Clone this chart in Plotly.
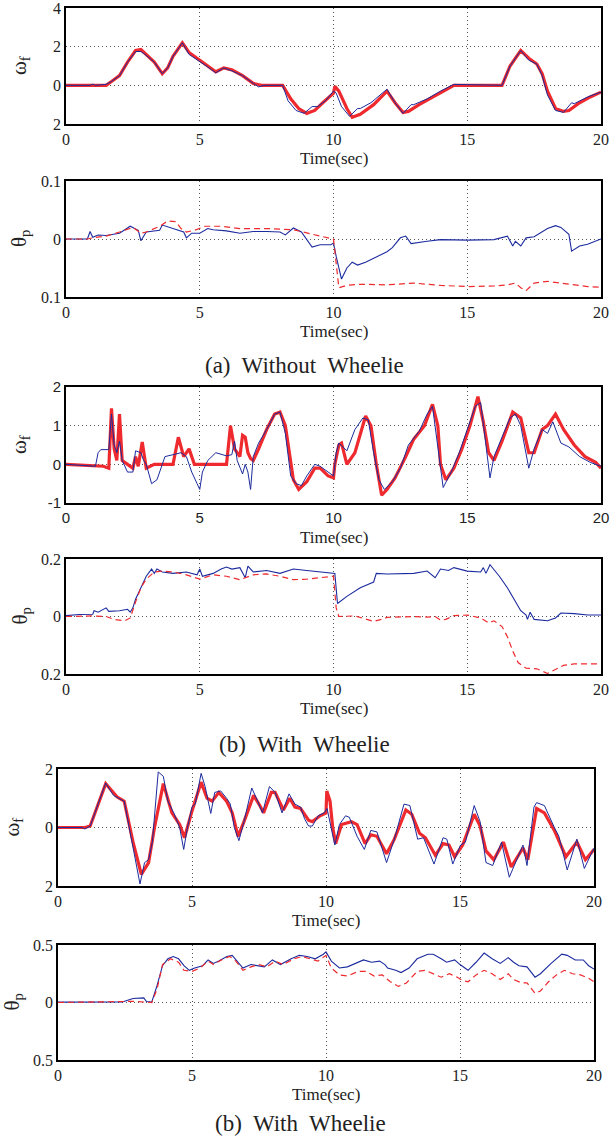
import plotly.graph_objects as go

# ---------------- data ----------------
# Panel (a) omega_f
a_wf_blue_t = [0, 0.9, 1.0, 1.1, 1.5, 1.7, 2.0, 2.3, 2.6, 2.8, 3.0, 3.3, 3.6, 3.8, 4.0, 4.35, 4.6, 5.0, 5.3, 5.6, 5.9, 6.2, 6.6, 7.0, 7.2, 7.4, 8.1, 8.3, 8.6, 8.9, 9.2, 9.4, 9.7, 10.0, 10.1, 10.3, 10.6, 10.9, 11.0, 11.4, 12.0, 12.3, 12.6, 12.9, 13.0, 13.5, 14.0, 14.5, 16.3, 16.6, 17.0, 17.3, 17.6, 17.8, 18.0, 18.3, 18.6, 18.9, 19.0, 19.5, 20.0]
a_wf_blue = [0, 0, 0.06, 0, 0.05, 0.2, 0.5, 1.2, 1.75, 1.75, 1.55, 1.2, 0.6, 0.9, 1.5, 2.2, 1.6, 1.25, 0.95, 0.65, 0.9, 0.75, 0.5, 0.1, -0.08, 0, 0, -0.8, -1.3, -1.45, -1.1, -1.1, -0.8, -0.3, -0.4, -1.1, -1.6, -1.2, -1.2, -0.9, -0.2, -0.9, -1.45, -1.0, -1.0, -0.7, -0.3, 0.05, 0, 1.0, 1.8, 1.3, 1.1, 0.5, -0.5, -1.3, -1.4, -0.9, -0.95, -0.6, -0.35]
a_wf_red_t = [0, 1.5, 1.7, 2.0, 2.3, 2.6, 2.8, 3.0, 3.3, 3.6, 3.8, 4.0, 4.35, 4.6, 5.0, 5.3, 5.6, 5.9, 6.2, 6.6, 7.0, 7.3, 8.1, 8.4, 8.7, 9.0, 9.3, 9.6, 10.0, 10.05, 10.2, 10.5, 10.7, 11.0, 11.5, 12.0, 12.3, 12.6, 12.8, 13.2, 13.7, 14.2, 14.5, 16.3, 16.6, 17.0, 17.3, 17.6, 17.8, 18.0, 18.3, 18.6, 18.8, 19.2, 19.6, 20.0]
a_wf_red = [0, 0, 0.2, 0.5, 1.2, 1.8, 1.85, 1.6, 1.2, 0.6, 0.9, 1.5, 2.2, 1.7, 1.3, 1.0, 0.7, 0.9, 0.8, 0.5, 0.1, 0, 0, -0.7, -1.2, -1.45, -1.3, -0.9, -0.4, -0.05, -0.3, -1.2, -1.65, -1.5, -1.0, -0.3, -0.9, -1.4, -1.35, -1.0, -0.6, -0.2, 0, 0, 1.0, 1.8, 1.4, 1.1, 0.6, -0.3, -1.2, -1.35, -1.3, -0.9, -0.6, -0.35]

# Panel (a) theta_p
a_tp_blue_t = [0, 0.8, 0.9, 1.0, 1.2, 1.5, 2.0, 2.4, 2.7, 2.8, 3.0, 3.5, 3.6, 4.0, 4.4, 4.5, 4.7, 5.0, 5.3, 5.5, 6.0, 6.5, 7.0, 7.5, 8.0, 8.2, 8.5, 8.8, 9.0, 9.2, 9.5, 9.9, 10.0, 10.1, 10.3, 10.5, 10.7, 10.9, 11.2, 11.5, 12.0, 12.2, 12.5, 12.7, 12.9, 13.5, 14.0, 15.0, 16.0, 16.5, 16.7, 16.8, 17.0, 17.2, 17.5, 18.0, 18.3, 18.5, 18.8, 18.9, 19.2, 19.5, 20.0]
a_tp_blue = [0, 0, 0.013, 0.003, 0.007, 0.006, 0.01, 0.022, 0.015, -0.003, 0.012, 0.015, 0.024, 0.018, 0.012, 0.002, 0.01, 0.01, 0.018, 0.016, 0.014, 0.01, 0.013, 0.013, 0.012, 0.007, 0.019, 0.012, 0.0, -0.014, -0.01, -0.01, -0.007, -0.03, -0.069, -0.05, -0.04, -0.045, -0.04, -0.033, -0.022, -0.015, 0.002, 0.005, -0.008, -0.004, -0.001, -0.002, -0.001, 0.005, -0.012, -0.004, -0.012, 0.002, 0.004, 0.018, 0.023, 0.02, 0.008, -0.021, -0.012, -0.009, 0.0]
a_tp_red_t = [0, 0.8, 1.0, 1.5, 2.0, 2.5, 2.8, 3.0, 3.5, 3.8, 4.1, 4.3, 4.5, 4.8, 5.2, 5.8, 6.5, 7.5, 8.5, 9.0, 9.5, 10.0, 10.2, 10.5, 11.0, 12.0, 13.0, 14.0, 15.0, 16.0, 16.5, 16.8, 17.0, 17.2, 17.5, 18.0, 18.5, 19.0, 19.5, 20.0]
a_tp_red = [0, 0, 0.002, 0.005, 0.012, 0.02, 0.01, 0.012, 0.022, 0.031, 0.03, 0.018, 0.012, 0.015, 0.022, 0.022, 0.018, 0.018, 0.016, 0.01, 0.005, 0.0, -0.084, -0.08, -0.078, -0.079, -0.076, -0.08, -0.082, -0.081, -0.079, -0.076, -0.084, -0.089, -0.076, -0.073, -0.076, -0.08, -0.082, -0.083]

# Panel (b) omega_f
b_wf_blue_t = [0, 1.1, 1.2, 1.3, 1.6, 1.7, 1.8, 1.9, 2.0, 2.1, 2.3, 2.5, 2.6, 2.8, 2.9, 3.0, 3.2, 3.4, 3.6, 3.7, 4.0, 4.3, 4.5, 4.7, 4.9, 5.0, 5.1, 5.3, 5.6, 5.8, 6.0, 6.2, 6.3, 6.4, 6.5, 6.6, 6.7, 6.8, 6.9, 7.0, 7.2, 7.5, 7.8, 8.0, 8.2, 8.4, 8.6, 8.8, 9.0, 9.3, 9.5, 9.7, 9.9, 10.0, 10.1, 10.2, 10.5, 10.8, 11.1, 11.3, 11.5, 11.7, 11.9, 12.2, 12.5, 12.8, 13.2, 13.5, 13.7, 13.9, 14.1, 14.4, 14.7, 15.0, 15.3, 15.5, 15.7, 15.85, 16.0, 16.3, 16.6, 16.8, 17.0, 17.3, 17.5, 17.8, 18.0, 18.2, 18.5, 18.8, 19.2, 19.6, 20.0]
b_wf_blue = [0, -0.05, 0.3, 0.38, 0.38, 1.3, 0.5, 0.3, 0.6, 0.1, -0.2, -0.2, 0.35, 0.3, 0.1, 0.0, -0.5, -0.4, 0.0, 0.2, 0.25, 0.3, 0.2, -0.2, -0.5, -0.65, -0.2, 0.1, 0.3, 0.25, 0.22, 0.25, 0.6, 0.1, -0.1, -0.25, 0.0, -0.2, -0.65, 0.2, 0.55, 0.9, 1.3, 1.35, 0.8, -0.3, -0.5, -0.55, -0.3, 0.0, -0.05, -0.15, -0.25, -0.3, 0.3, 0.55, 0.35, 0.9, 1.2, 1.15, 0.3, -0.4, -0.65, -0.45, -0.1, 0.5, 0.85, 1.3, 1.5, 0.4, -0.6, -0.2, 0.3, 0.9, 1.5, 1.6, 0.4, -0.35, 0.2, 0.7, 1.2, 1.3, 1.0, -0.1, 0.4, 0.9, 0.8, 1.1, 0.55, 0.45, 0.2, 0.05, -0.05]
b_wf_red_t = [0, 1.4, 1.6, 1.7, 1.8, 1.9, 2.0, 2.1, 2.3, 2.5, 2.6, 2.7, 2.85, 3.0, 3.3, 4.0, 4.2, 4.4, 4.6, 4.8, 6.0, 6.1, 6.15, 6.3, 6.5, 6.6, 6.7, 6.8, 6.9, 7.0, 7.2, 7.5, 7.8, 8.0, 8.2, 8.5, 8.7, 9.0, 9.3, 9.5, 9.8, 10.0, 10.05, 10.2, 10.3, 10.5, 10.8, 11.2, 11.4, 11.6, 11.8, 12.0, 12.3, 12.7, 13.0, 13.4, 13.7, 13.9, 14.0, 14.2, 14.5, 14.8, 15.1, 15.4, 15.6, 15.8, 16.0, 16.3, 16.7, 17.0, 17.3, 17.5, 17.8, 18.0, 18.3, 18.6, 19.0, 19.4, 19.8, 20.0]
b_wf_red = [0, -0.05, -0.1, 1.45, 0.4, 0.1, 1.3, 0.1, 0.0, -0.1, 0.2, -0.05, 0.58, -0.1, 0.0, 0.0, 0.7, 0.2, 0.4, 0.0, 0.0, 0.6, 1.0, 0.4, 0.2, 0.75, 0.7, 0.3, 0.15, 0.1, 0.4, 0.9, 1.3, 1.35, 1.0, -0.4, -0.65, -0.45, -0.1, -0.1, -0.3, -0.35, 0.0, 0.5, 0.55, 0.0, 0.3, 1.25, 1.0, 0.0, -0.8, -0.65, -0.35, 0.2, 0.65, 1.0, 1.55, 1.0, 0.0, -0.4, -0.1, 0.4, 1.0, 1.75, 1.1, 0.3, 0.1, 0.6, 1.35, 1.2, 0.3, 0.3, 0.9, 1.0, 1.3, 0.9, 0.5, 0.2, 0.05, -0.1]

# Panel (b) theta_p
b_tp_blue_t = [0, 0.5, 1.0, 1.05, 1.2, 1.5, 1.6, 2.0, 2.3, 2.4, 2.5, 2.6, 2.8, 3.0, 3.2, 3.3, 3.4, 3.6, 4.0, 4.5, 4.9, 5.0, 5.1, 5.5, 5.8, 6.0, 6.2, 6.5, 6.7, 6.8, 7.0, 7.5, 8.0, 8.5, 9.0, 9.5, 10.0, 10.05, 10.15, 10.5, 11.0, 11.5, 11.6, 12.0, 13.0, 13.5, 13.8, 14.0, 14.3, 14.5, 15.0, 15.5, 15.6, 15.7, 15.85, 16.2, 16.5, 16.8, 17.0, 17.2, 17.25, 17.35, 17.5, 18.0, 18.3, 18.5, 19.0, 19.5, 20.0]
b_tp_blue = [0.003, 0.007, 0.008, 0.02, 0.015, 0.03, 0.018, 0.02, 0.025, 0.015, 0.03, 0.06, 0.1, 0.14, 0.165, 0.15, 0.165, 0.155, 0.15, 0.155, 0.145, 0.165, 0.14, 0.15, 0.165, 0.172, 0.165, 0.17, 0.135, 0.175, 0.155, 0.16, 0.15, 0.165, 0.16, 0.155, 0.152, 0.15, 0.045, 0.07, 0.1, 0.12, 0.15, 0.148, 0.15, 0.158, 0.135, 0.165, 0.16, 0.17, 0.158, 0.155, 0.17, 0.15, 0.18, 0.14, 0.1, 0.05, 0.02, 0.005, -0.01, 0.015, -0.01, -0.015, -0.005, 0.012, 0.01, 0.005, 0.005]
b_tp_red_t = [0, 1.0, 1.5, 1.8, 2.2, 2.4, 2.6, 2.8, 3.0, 3.3, 3.6, 4.0, 4.5, 5.0, 5.5, 6.0, 6.5, 7.0, 7.5, 8.0, 8.5, 9.0, 9.5, 10.0, 10.1, 10.2, 10.8, 11.2, 11.5, 11.8, 12.0, 13.0, 13.5, 13.8, 14.0, 14.2, 14.5, 15.0, 15.5, 15.8, 16.0, 16.3, 16.5, 16.7, 16.9, 17.2, 17.6, 18.0, 18.3, 18.6, 19.0, 20.0]
b_tp_red = [0, 0.002, 0.0, -0.01, -0.015, -0.005, 0.05, 0.1, 0.13, 0.155, 0.158, 0.155, 0.145, 0.13, 0.145, 0.14, 0.128, 0.145, 0.148, 0.14, 0.128, 0.13, 0.135, 0.14, 0.03, 0.0, 0.002, -0.008, -0.017, -0.01, -0.003, 0.0, -0.002, 0.0, -0.012, -0.01, 0.003, 0.005, -0.005, -0.022, -0.015, -0.035, -0.07, -0.12, -0.16, -0.18, -0.182, -0.198, -0.185, -0.17, -0.165, -0.165]

# Panel (c) omega_f
c_wf_blue_t = [0, 0.9, 1.0, 1.2, 1.78, 2.07, 2.36, 2.47, 3.06, 3.23, 3.38, 3.52, 3.74, 3.93, 4.1, 4.32, 4.54, 4.69, 4.83, 5.0, 5.12, 5.34, 5.49, 5.7, 5.85, 6.07, 6.29, 6.43, 6.58, 6.75, 6.94, 7.23, 7.45, 7.63, 7.89, 8.1, 8.36, 8.62, 8.84, 9.05, 9.2, 9.35, 9.49, 9.71, 9.93, 10.04, 10.19, 10.33, 10.5, 10.73, 10.87, 11.16, 11.43, 11.67, 11.9, 12.26, 12.55, 12.91, 13.13, 13.42, 13.64, 14.03, 14.37, 14.51, 14.73, 15.02, 15.2, 15.53, 15.75, 15.97, 16.22, 16.55, 16.84, 17.13, 17.35, 17.5, 17.76, 17.86, 18.15, 18.52, 18.69, 19.0, 19.36, 19.64, 20.0]
c_wf_blue = [0, 0, -0.05, 0.05, 1.52, 1.1, 0.95, 0.9, -1.93, -1.2, -1.1, -0.5, 1.9, 1.75, 0.9, 0.5, 0.0, -0.75, 0.0, 0.7, 0.8, 1.85, 1.4, 0.48, 1.2, 1.25, 1.0, 0.8, 0.0, -0.45, 0.2, 1.35, 0.9, 0.5, 1.4, 1.2, 0.5, 1.15, 0.8, 0.7, 0.3, 0.05, 0.05, 0.4, 0.5, 0.65, 0.0, -0.6, 0.1, 0.4, 0.35, -0.3, -0.75, -0.1, -0.15, -1.2, -0.4, 0.8, 0.75, -0.4, -0.35, -1.25, -0.35, -0.4, -1.25, -0.6, -0.5, 0.75, 0.2, -1.2, -1.3, -0.5, -1.7, -1.1, -0.6, -1.3, 0.7, 0.85, 0.75, 0.0, -0.3, -1.45, -0.4, -1.4, -0.7]
c_wf_red_t = [0, 1.0, 1.2, 1.78, 2.2, 2.47, 2.8, 3.11, 3.38, 3.6, 3.93, 4.25, 4.54, 4.72, 4.98, 5.34, 5.56, 5.75, 6.0, 6.29, 6.5, 6.72, 6.94, 7.3, 7.56, 7.67, 7.96, 8.1, 8.41, 8.65, 8.84, 9.05, 9.35, 9.49, 9.78, 10.0, 10.03, 10.15, 10.25, 10.36, 10.58, 10.95, 11.16, 11.46, 11.67, 11.9, 12.26, 12.55, 12.98, 13.2, 13.49, 13.71, 14.08, 14.37, 14.59, 14.8, 15.1, 15.53, 15.75, 15.97, 16.26, 16.62, 16.91, 17.2, 17.35, 17.53, 17.86, 18.15, 18.52, 18.95, 19.36, 19.68, 20.0]
c_wf_red = [0, 0, 0.05, 1.5, 1.05, 0.9, -0.5, -1.6, -1.2, 0.0, 1.5, 0.5, 0.1, -0.35, 0.5, 1.55, 1.0, 0.9, 1.2, 0.9, 0.5, -0.3, 0.2, 1.1, 0.7, 0.5, 1.2, 1.2, 0.6, 1.0, 0.7, 0.65, 0.25, 0.2, 0.4, 0.5, 1.25, 0.9, 0.0, -0.55, 0.1, 0.2, 0.1, -0.55, -0.25, -0.3, -0.9, -0.4, 0.6, 0.45, -0.2, -0.35, -0.95, -0.55, -0.6, -1.0, -0.6, 0.45, 0.05, -0.8, -1.1, -0.5, -1.35, -0.9, -0.7, -1.1, 0.65, 0.5, -0.1, -1.0, -0.5, -1.1, -0.75]

# Panel (c) theta_p
c_tp_blue_t = [0, 2.0, 2.2, 2.4, 2.6, 2.8, 3.2, 3.3, 3.5, 3.7, 3.9, 4.1, 4.3, 4.5, 4.7, 4.9, 5.1, 5.4, 5.6, 5.8, 6.0, 6.3, 6.5, 6.7, 6.9, 7.2, 7.5, 7.7, 8.0, 8.3, 8.7, 9.0, 9.3, 9.6, 9.9, 10.0, 10.2, 10.5, 10.8, 11.1, 11.4, 11.7, 12.0, 12.2, 12.3, 12.6, 12.8, 13.1, 13.4, 13.8, 14.0, 14.3, 14.5, 14.8, 15.0, 15.3, 15.6, 15.9, 16.2, 16.5, 16.8, 17.0, 17.2, 17.5, 17.8, 18.0, 18.4, 18.8, 19.0, 19.3, 19.6, 19.8, 20.0]
c_tp_blue = [0.003, 0.003, 0.008, 0.005, 0.02, 0.035, 0.04, 0.008, 0.005, 0.15, 0.32, 0.38, 0.4, 0.38, 0.32, 0.28, 0.3, 0.32, 0.37, 0.34, 0.36, 0.4, 0.41, 0.35, 0.3, 0.33, 0.32, 0.31, 0.37, 0.33, 0.38, 0.41, 0.4, 0.38, 0.42, 0.44, 0.36, 0.3, 0.31, 0.34, 0.37, 0.35, 0.36, 0.33, 0.3, 0.28, 0.26, 0.3, 0.38, 0.42, 0.42, 0.38, 0.35, 0.37, 0.33, 0.28, 0.35, 0.43, 0.38, 0.34, 0.39, 0.35, 0.32, 0.31, 0.22, 0.25, 0.34, 0.42, 0.41, 0.37, 0.37, 0.32, 0.29]
c_tp_red_t = [0, 2.8, 3.5, 3.7, 3.9, 4.2, 4.5, 4.7, 5.0, 5.3, 5.6, 5.8, 6.1, 6.4, 6.6, 6.9, 7.2, 7.5, 7.8, 8.1, 8.4, 8.8, 9.1, 9.4, 9.7, 10.0, 10.2, 10.5, 10.8, 11.2, 11.5, 11.8, 12.1, 12.4, 12.7, 13.0, 13.4, 13.7, 14.0, 14.3, 14.6, 14.9, 15.1, 15.3, 15.6, 15.9, 16.2, 16.5, 16.8, 17.0, 17.3, 17.5, 17.8, 18.0, 18.3, 18.6, 18.9, 19.2, 19.5, 19.8, 20.0]
c_tp_red = [0, 0.01, 0.0, 0.12, 0.33, 0.38, 0.35, 0.28, 0.27, 0.3, 0.36, 0.33, 0.37, 0.4, 0.37, 0.28, 0.31, 0.33, 0.31, 0.36, 0.33, 0.38, 0.4, 0.38, 0.36, 0.41, 0.3, 0.24, 0.23, 0.27, 0.27, 0.23, 0.24, 0.18, 0.14, 0.17, 0.27, 0.28, 0.25, 0.22, 0.25, 0.22, 0.19, 0.18, 0.24, 0.28, 0.25, 0.2, 0.25, 0.2, 0.17, 0.17, 0.08, 0.1, 0.18, 0.24, 0.28, 0.25, 0.24, 0.21, 0.18]

# axis settings per panel
y_ranges = [[-2, 4], [-0.1, 0.1], [-1, 2], [-0.2, 0.2], [-2, 2], [-0.5, 0.5]]
y_tickvals = [[-2, 0, 2, 4], [-0.1, 0, 0.1], [-1, 0, 1, 2], [-0.2, 0, 0.2], [-2, 0, 2], [-0.5, 0, 0.5]]
y_ticktext = [["2", "0", "2", "4"], ["0.1", "0", "0.1"], ["-1", "0", "1", "2"], ["0.2", "0", "0.2"], ["2", "0", "2"], ["0.5", "0", "0.5"]]
y_titles = ["ω<sub>f</sub>", "θ<sub>p</sub>", "ω<sub>f</sub>", "θ<sub>p</sub>", "ω<sub>f</sub>", "θ<sub>p</sub>"]
x_ticks = [0, 5, 10, 15, 20]
captions = ["(a)\u00a0 Without\u00a0 Wheelie", "(b)\u00a0 With\u00a0 Wheelie", "(b)\u00a0 With\u00a0 Wheelie"]

# ---------------- layout geometry (pixels) ----------------
W, H = 611, 1143
boxes = [(66, 601, 8, 124), (66, 601, 181, 297), (66, 601, 387, 503),
         (66, 601, 559, 674), (58, 594, 769, 886), (58, 594, 945, 1060)]
caption_y = [365, 744, 1123]
caption_x = [304, 304, 300]

BLUE = "#1c2b9e"
RED = "#ee2a2e"
FONT = "'Liberation Serif', 'Times New Roman', Times, serif"
SANS = "'Liberation Sans', Arial, sans-serif"
tick_fonts = [FONT, FONT, SANS, FONT, FONT, FONT]

series = [
    (a_wf_blue_t, a_wf_blue, a_wf_red_t, a_wf_red, True),
    (a_tp_blue_t, a_tp_blue, a_tp_red_t, a_tp_red, False),
    (b_wf_blue_t, b_wf_blue, b_wf_red_t, b_wf_red, True),
    (b_tp_blue_t, b_tp_blue, b_tp_red_t, b_tp_red, False),
    (c_wf_blue_t, c_wf_blue, c_wf_red_t, c_wf_red, True),
    (c_tp_blue_t, c_tp_blue, c_tp_red_t, c_tp_red, False),
]

fig = go.Figure()
annotations = []
layout = {}
for i, (bt, bv, rt, rv, is_wf) in enumerate(series):
    n = i + 1
    xa = "x" if n == 1 else f"x{n}"
    ya = "y" if n == 1 else f"y{n}"
    x0, x1, y0, y1 = boxes[i]
    if is_wf:
        fig.add_trace(go.Scatter(x=rt, y=rv, mode="lines", xaxis=xa, yaxis=ya,
                                 line=dict(color=RED, width=3.2), showlegend=False))
        fig.add_trace(go.Scatter(x=bt, y=bv, mode="lines", xaxis=xa, yaxis=ya,
                                 line=dict(color=BLUE, width=1), showlegend=False))
    else:
        fig.add_trace(go.Scatter(x=bt, y=bv, mode="lines", xaxis=xa, yaxis=ya,
                                 line=dict(color=BLUE, width=1.1), showlegend=False))
        fig.add_trace(go.Scatter(x=rt, y=rv, mode="lines", xaxis=xa, yaxis=ya,
                                 line=dict(color=RED, width=1.2, dash="6px,4px"), showlegend=False))
    xkey = "xaxis" if n == 1 else f"xaxis{n}"
    ykey = "yaxis" if n == 1 else f"yaxis{n}"
    tf = dict(family=tick_fonts[i], size=16 if tick_fonts[i] == FONT else 15, color="#222")
    layout[xkey] = dict(domain=[x0 / W, x1 / W], anchor=ya, range=[0, 20], automargin=False,
                        tickvals=x_ticks, showgrid=True, gridcolor="#555", griddash="1px,3px",
                        gridwidth=1, zeroline=False, showline=True, mirror=True,
                        linecolor="black", linewidth=1.6, ticks="", ticklabeloverflow="allow",
                        tickfont=tf)
    layout[ykey] = dict(domain=[1 - y1 / H, 1 - y0 / H], anchor=xa, range=y_ranges[i],
                        automargin=False, ticklabeloverflow="allow",
                        tickvals=y_tickvals[i], ticktext=y_ticktext[i],
                        showgrid=True, gridcolor="#555", griddash="1px,3px", gridwidth=1,
                        zeroline=False, showline=True, mirror=True,
                        linecolor="black", linewidth=1.6, ticks="",
                        tickfont=tf)
    # y title
    annotations.append(dict(x=(x0 - 46) / W, y=1 - ((y0 + y1) / 2) / H, xref="paper", yref="paper",
                            text=y_titles[i], textangle=-90, showarrow=False,
                            font=dict(family=FONT, size=21, color="#222"),
                            xanchor="center", yanchor="middle"))
    # x title
    annotations.append(dict(x=((x0 + x1) / 2) / W, y=1 - (y1 + 34) / H, xref="paper", yref="paper",
                            text="Time(sec)", showarrow=False,
                            font=dict(family=FONT, size=17, color="#222"),
                            xanchor="center", yanchor="middle"))

for j, cap in enumerate(captions):
    annotations.append(dict(x=caption_x[j] / W, y=1 - caption_y[j] / H, xref="paper", yref="paper",
                            text=cap, showarrow=False,
                            font=dict(family=FONT, size=23, color="#222"),
                            xanchor="center", yanchor="middle"))

fig.update_layout(width=W, height=H, margin=dict(l=0, r=0, t=0, b=0),
                  plot_bgcolor="white", paper_bgcolor="white",
                  annotations=annotations, **layout)
fig.write_html("out.html", config={"displayModeBar": False},
               post_script="document.body.style.margin='0px';document.body.style.overflow='hidden';")
